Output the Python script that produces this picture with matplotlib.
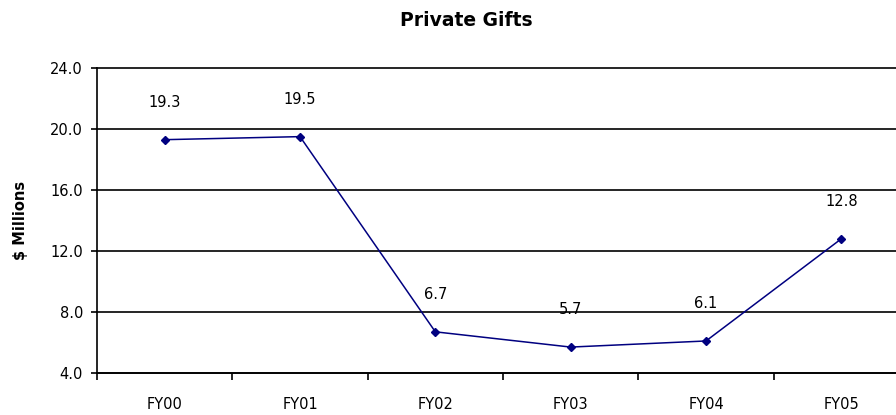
import matplotlib.pyplot as plt
import numpy as np

years = ["FY00", "FY01", "FY02", "FY03", "FY04", "FY05"]
gifts = [19.3, 19.5, 6.7, 5.7, 6.1, 12.8]
yticks = [4.0, 8.0, 12.0, 16.0, 20.0, 24.0]

plt.rcParams['font.family'] = ['DejaVu Sans']

fig = plt.figure(figsize=(8.96, 4.15), dpi=100)
# plot area runs a little past the right edge, like the original
ax = fig.add_axes([97 / 896, 1 - 373 / 415, (909 - 97) / 896, (373 - 68) / 415])

x = np.arange(len(years))
ax.plot(x, gifts, color='#000080', linewidth=1.1, marker='D', markersize=4.5)

for xi, v in zip(x, gifts):
    ax.annotate(f"{v:.1f}", (xi, v), xytext=(0, 27), textcoords='offset points',
                ha='center', va='center', fontsize=10.5)

ax.set_xlim(-0.5, len(years) - 0.5)
ax.set_ylim(4, 24)
ax.set_yticks(yticks)
ax.set_yticklabels([f"{t:.1f}" for t in yticks], fontsize=10.5)
ax.yaxis.grid(True, color='black', linewidth=1.2)
for gl in ax.get_ygridlines():
    gl.set_clip_on(False)
ax.set_axisbelow(True)

ax.set_xticks(x)
ax.set_xticklabels(years, fontsize=10.5)
ax.set_xticks(np.arange(len(years) + 1) - 0.5, minor=True)
ax.tick_params(axis='x', which='major', length=0, pad=17)
ax.tick_params(axis='x', which='minor', length=5, width=1.2, direction='out')
ax.tick_params(axis='y', length=4, width=1.2, direction='out', pad=6)

for s in ['top', 'right']:
    ax.spines[s].set_visible(False)
for s in ['left', 'bottom']:
    ax.spines[s].set_linewidth(1.2)

ax.set_ylabel("$ Millions", fontsize=10.5, fontweight='bold', labelpad=16)
fig.text(466 / 896, 1 - 20 / 415, "Private Gifts", ha='center', va='center',
         fontsize=13.5, fontweight='bold')

fig.savefig("out.png", dpi=100)
